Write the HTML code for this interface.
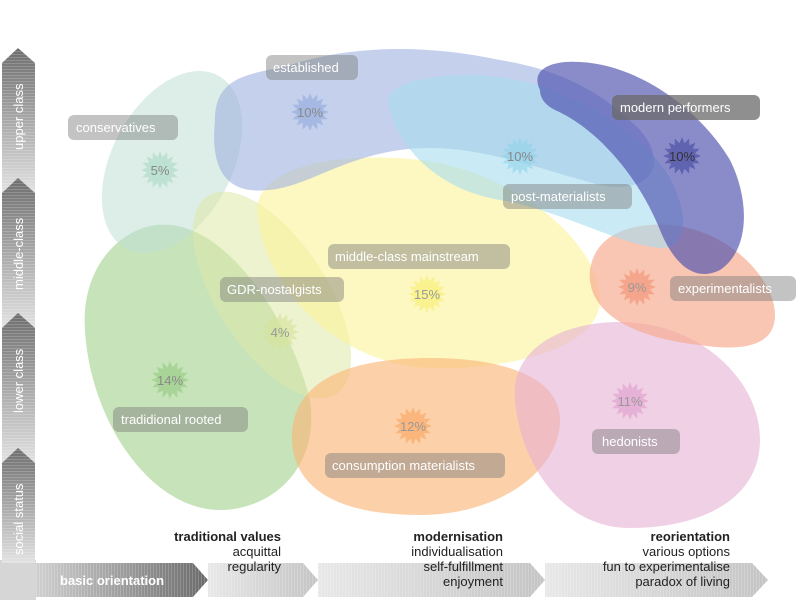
<!DOCTYPE html>
<html><head><meta charset="utf-8"><style>
html,body{margin:0;padding:0;background:#fff;width:800px;height:600px;overflow:hidden}
svg text{font-family:"Liberation Sans",Arial,sans-serif}
</style></head><body>
<svg width="800" height="600" viewBox="0 0 800 600" xmlns="http://www.w3.org/2000/svg">
<defs>
<linearGradient id="vg" x1="0" y1="0" x2="0" y2="1">
<stop offset="0" stop-color="#6e6e6e"/><stop offset="1" stop-color="#e2e2e2"/></linearGradient>
<linearGradient id="hg0" x1="0" y1="0" x2="1" y2="0">
<stop offset="0" stop-color="#d0d0d0"/><stop offset="1" stop-color="#6a6a6a"/></linearGradient>
<linearGradient id="hg" x1="0" y1="0" x2="1" y2="0">
<stop offset="0" stop-color="#e8e8e8"/><stop offset="1" stop-color="#c4c4c4"/></linearGradient>
<pattern id="hstripe" width="4" height="3" patternUnits="userSpaceOnUse"><rect width="4" height="1" fill="#fff" opacity="0.18"/></pattern>
<pattern id="vstripe" width="3" height="4" patternUnits="userSpaceOnUse"><rect width="1" height="4" fill="#fff" opacity="0.18"/></pattern>
</defs>

<!-- left axis -->
<g>
<rect x="0" y="560" width="36" height="40" fill="#d6d6d6"/>
<path d="M2,63 L18,48 L35,63 L35,193 L2,193Z" fill="url(#vg)"/>
<path d="M2,193 L18,178 L35,193 L35,328 L2,328Z" fill="url(#vg)"/>
<path d="M2,328 L18,313 L35,328 L35,463 L2,463Z" fill="url(#vg)"/>
<path d="M2,463 L18,448 L35,463 L35,563 L2,563Z" fill="url(#vg)"/>
<rect x="2" y="48" width="33" height="515" fill="url(#hstripe)"/>
<g fill="#fff" font-size="13">
<text transform="translate(23,150) rotate(-90)">upper class</text>
<text transform="translate(23,290) rotate(-90)">middle-class</text>
<text transform="translate(23,413) rotate(-90)">lower class</text>
<text transform="translate(23,555) rotate(-90)">social status</text>
</g>
</g>

<!-- bottom axis -->
<g>
<path d="M545,563 L752,563 L768,580 L752,597 L545,597Z" fill="url(#hg)"/>
<path d="M318,563 L530,563 L545,580 L530,597 L318,597Z" fill="url(#hg)"/>
<path d="M208,563 L303,563 L318,580 L303,597 L208,597Z" fill="url(#hg)"/>
<path d="M36,563 L193,563 L208,580 L193,597 L36,597Z" fill="url(#hg0)"/>
<rect x="36" y="563" width="732" height="34" fill="url(#vstripe)"/>
<text x="60" y="585" fill="#fff" font-size="13" font-weight="bold">basic orientation</text>
</g>
<g font-size="13" fill="#222" text-anchor="end">
<text x="281" y="541" font-weight="bold">traditional values</text>
<text x="281" y="556">acquittal</text>
<text x="281" y="571">regularity</text>
<text x="503" y="541" font-weight="bold">modernisation</text>
<text x="503" y="556">individualisation</text>
<text x="503" y="571">self-fulfillment</text>
<text x="503" y="586">enjoyment</text>
<text x="730" y="541" font-weight="bold">reorientation</text>
<text x="730" y="556">various options</text>
<text x="730" y="571">fun to experimentalise</text>
<text x="730" y="586">paradox of living</text>
</g>

<!-- blobs -->
<g>
<path d="M85,330 C80,260 130,220 170,225 C230,230 290,320 310,400 C320,470 270,510 220,510 C150,510 90,420 85,330Z" fill="#b3d9a3" opacity="0.75"/>
<ellipse cx="172" cy="162" rx="60" ry="98" transform="rotate(28 172 162)" fill="#bfe0d4" opacity="0.55"/>
<ellipse cx="272" cy="295" rx="55" ry="118" transform="rotate(-33 272 295)" fill="#dfe8a8" opacity="0.55"/>
<path d="M258,215 C250,170 330,150 420,160 C510,170 600,240 600,300 C600,345 520,370 430,368 C340,365 265,290 258,215Z" fill="#fbf39a" opacity="0.6"/>
<path d="M292,440 C290,380 350,358 430,358 C510,358 560,380 560,420 C560,470 500,515 420,515 C340,515 294,490 292,440Z" fill="#fbb77a" opacity="0.65"/>
<path d="M515,400 C510,350 560,322 620,322 C700,322 760,380 760,440 C760,500 700,528 630,528 C560,528 520,460 515,400Z" fill="#e6b0d3" opacity="0.6"/>
<path d="M590,270 C595,235 630,222 670,225 C730,230 775,280 775,315 C775,345 745,352 700,345 C650,340 585,320 590,270Z" fill="#f7a78c" opacity="0.65"/>
<path d="M215,120 C215,70 260,75 300,62 C360,45 430,45 500,60 C560,70 600,90 640,130 C670,165 650,195 600,185 C540,170 470,140 400,150 C330,160 300,195 250,190 C215,185 212,150 215,120Z" fill="#9fb3df" opacity="0.6"/>
<path d="M390,110 C380,85 420,75 470,75 C540,75 620,110 665,170 C690,210 690,250 660,248 C620,245 560,210 500,200 C440,190 400,150 390,110Z" fill="#a6dcef" opacity="0.6"/>
<path d="M540,90 C530,70 550,60 580,62 C640,65 700,110 730,160 C750,200 750,250 720,270 C690,285 670,255 660,230 C640,180 600,130 555,110 C545,105 540,98 540,90Z" fill="#4b4fad" opacity="0.65"/>
</g>

<!-- stars -->
<g id="stars"></g>

<!-- labels -->
<g font-size="13" fill="#fff">
<rect x="68" y="115" width="110" height="25" rx="6" fill="#7a7a7a" opacity="0.45"/><text x="76" y="132">conservatives</text>
<rect x="266" y="55" width="92" height="25" rx="6" fill="#7a7a7a" opacity="0.45"/><text x="273" y="72">established</text>
<rect x="612" y="95" width="148" height="25" rx="6" fill="#6a6a6a" opacity="0.75"/><text x="620" y="112">modern performers</text>
<rect x="503" y="184" width="129" height="25" rx="6" fill="#7a7a7a" opacity="0.45"/><text x="511" y="201">post-materialists</text>
<rect x="328" y="244" width="182" height="25" rx="6" fill="#7a7a7a" opacity="0.45"/><text x="335" y="261">middle-class mainstream</text>
<rect x="220" y="277" width="124" height="25" rx="6" fill="#7a7a7a" opacity="0.45"/><text x="227" y="294">GDR-nostalgists</text>
<rect x="670" y="276" width="126" height="25" rx="6" fill="#7a7a7a" opacity="0.45"/><text x="678" y="293">experimentalists</text>
<rect x="113" y="407" width="135" height="25" rx="6" fill="#7a7a7a" opacity="0.45"/><text x="121" y="424">tradidional rooted</text>
<rect x="325" y="453" width="180" height="25" rx="6" fill="#7a7a7a" opacity="0.45"/><text x="332" y="470">consumption materialists</text>
<rect x="592" y="429" width="88" height="25" rx="6" fill="#7a7a7a" opacity="0.45"/><text x="602" y="446">hedonists</text>
</g>
</svg>
<script>
(function(){
var s=[[160,170,"5%","#a9d9c5","#888"],[310,112,"10%","#8fa8de","#888"],[520,156,"10%","#8fd3ea","#888"],[682,156,"10%","#45489e","#333"],[427,294,"15%","#f7ee6a","#999"],[280,332,"4%","#d6e39a","#999"],[637,287,"9%","#f28f72","#999"],[170,380,"14%","#95cc80","#888"],[413,426,"12%","#f9a55f","#999"],[630,401,"11%","#dd9ccb","#999"]];
var g=document.getElementById("stars"),h="";
s.forEach(function(a){var p=[];for(var i=0;i<32;i++){var r=i%2?13:19,t=i*Math.PI/16;p.push((a[0]+r*Math.sin(t)).toFixed(1)+","+(a[1]-r*Math.cos(t)).toFixed(1));}
h+='<polygon points="'+p.join(" ")+'" fill="'+a[3]+'" opacity="0.6"/>';
h+='<text x="'+a[0]+'" y="'+(a[1]+5)+'" text-anchor="middle" font-size="13" fill="'+a[4]+'">'+a[2]+'</text>';});
g.innerHTML=h;})();
</script>
</body></html>
